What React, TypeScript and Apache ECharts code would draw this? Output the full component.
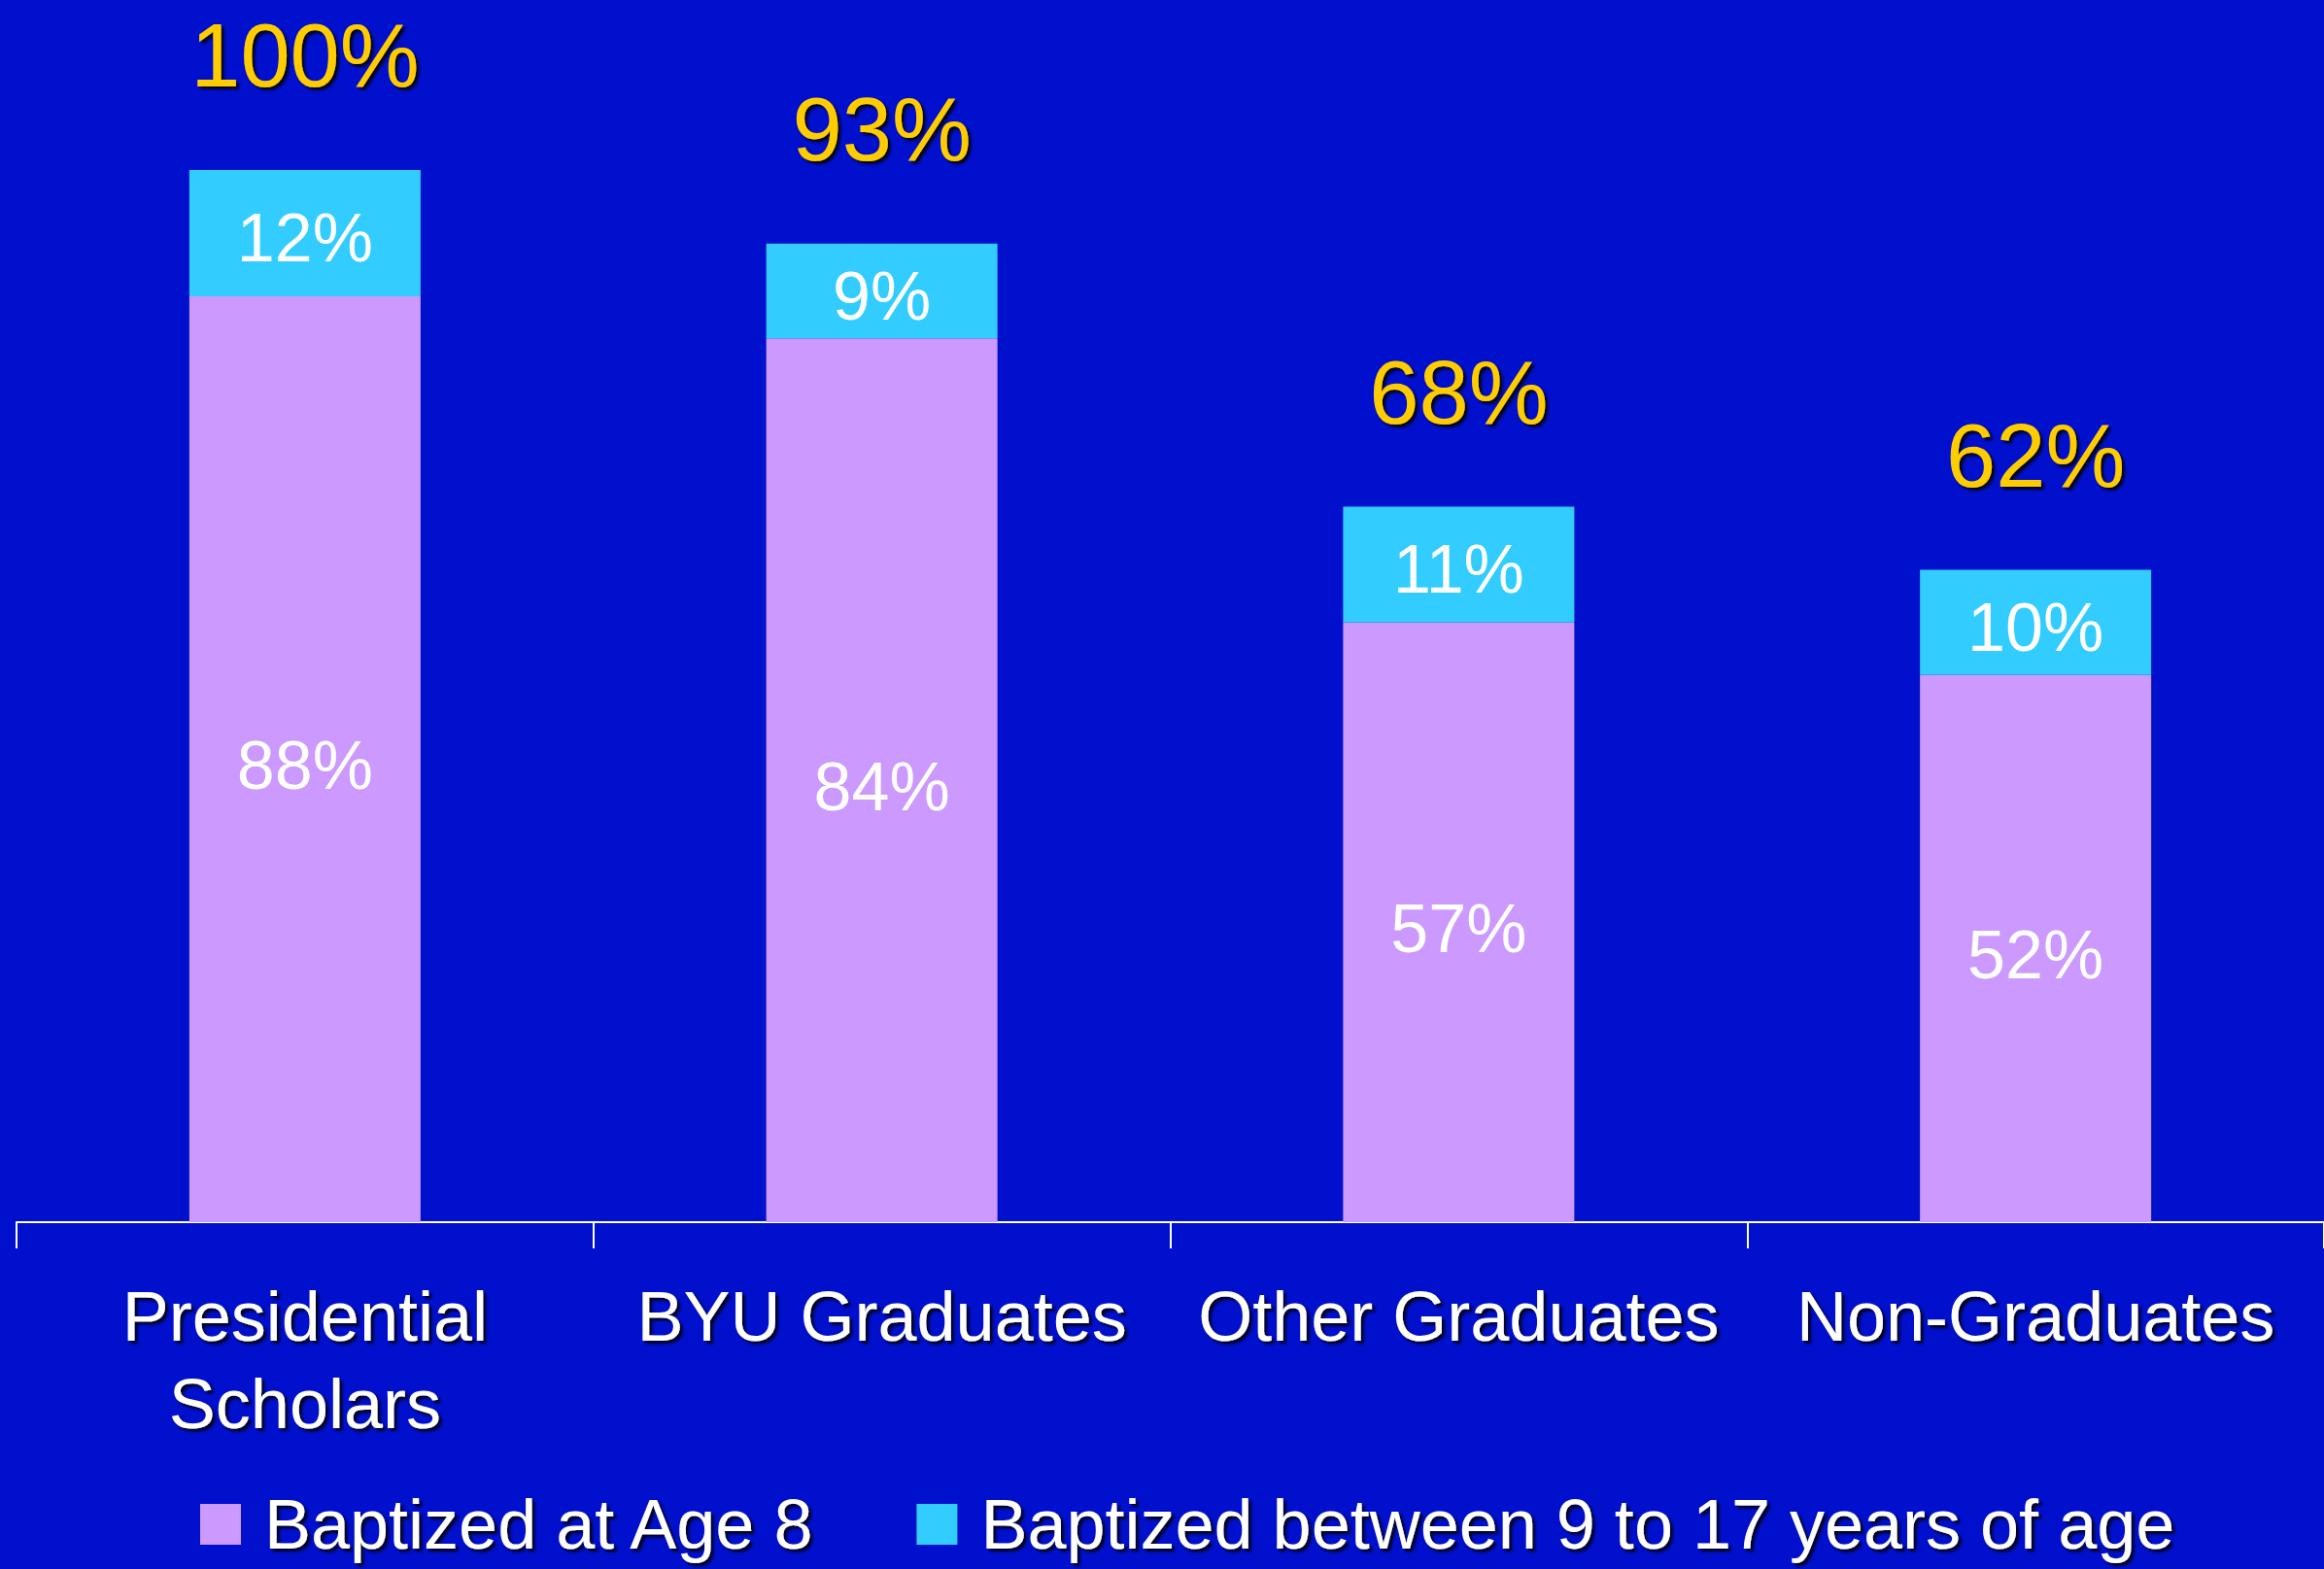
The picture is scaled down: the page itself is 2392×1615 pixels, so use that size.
import React, { useEffect, useRef } from "react";
import * as echarts from "echarts";

const categories = ["Presidential Scholars", "BYU Graduates", "Other Graduates", "Non-Graduates"];
const age8 = [88, 84, 57, 52];
const age9to17 = [12, 9, 11, 10];
const totals = [100, 93, 68, 62];
const seriesNames = ["Baptized at Age 8", "Baptized between 9 to 17 years of age"];

const FONT = "'Liberation Sans', Arial, Helvetica, sans-serif";
const BG = "#0010CC";
const PURPLE = "#CC99FF";
const CYAN = "#33CCFF";
const GOLD = "#FFCC00";

const shadow = {
  textShadowColor: "rgba(0,0,0,0.85)",
  textShadowBlur: 3,
  textShadowOffsetX: 3,
  textShadowOffsetY: 3,
};

export default function App() {
  const ref = useRef<HTMLDivElement>(null);
  useEffect(() => {
    if (!ref.current) return;
    const chart = echarts.init(ref.current, null, { renderer: "svg" });
    chart.setOption({
      animation: false,
      backgroundColor: BG,
      grid: { left: 17, right: 0, top: 175, bottom: 357, containLabel: false },
      legend: {
        left: 201,
        top: 1528,
        itemWidth: 42,
        itemHeight: 42,
        itemGap: 103,
        icon: "rect",
        data: [
          { name: seriesNames[0], itemStyle: { color: PURPLE } },
          { name: seriesNames[1], itemStyle: { color: CYAN } },
        ],
        textStyle: {
          color: "#ffffff",
          fontSize: 72,
          fontFamily: FONT,
          padding: [0, 0, 0, 19],
          ...shadow,
        },
      },
      xAxis: {
        type: "category",
        data: categories,
        axisLine: { show: true, lineStyle: { color: "#ffffff", width: 2 } },
        axisTick: { show: true, length: 27, lineStyle: { color: "#ffffff", width: 2 } },
        axisLabel: {
          interval: 0,
          color: "#ffffff",
          fontSize: 72,
          lineHeight: 90,
          margin: 52,
          fontFamily: FONT,
          formatter: (v: string) => (v.length > 16 ? v.replace(" ", "\n") : v),
          ...shadow,
        },
      },
      yAxis: { type: "value", min: 0, max: 100, show: false, splitLine: { show: false } },
      series: [
        {
          name: seriesNames[0],
          type: "bar",
          stack: "total",
          data: age8,
          barWidth: 238,
          itemStyle: { color: PURPLE },
          label: {
            show: true,
            position: "inside",
            formatter: "{c}%",
            color: "#ffffff",
            fontSize: 70,
            fontFamily: FONT,
            offset: [0, 7],
          },
        },
        {
          name: seriesNames[1],
          type: "bar",
          stack: "total",
          data: age9to17,
          barWidth: 238,
          itemStyle: { color: CYAN },
          label: {
            show: true,
            position: "inside",
            formatter: "{c}%",
            color: "#ffffff",
            fontSize: 70,
            fontFamily: FONT,
            offset: [0, 5],
          },
        },
        {
          name: "Total",
          type: "bar",
          data: totals,
          barWidth: 238,
          barGap: "-100%",
          silent: true,
          itemStyle: { color: "rgba(0,0,0,0)" },
          label: {
            show: true,
            position: "top",
            distance: 68,
            formatter: "{c}%",
            color: GOLD,
            fontSize: 92,
            lineHeight: 100,
            fontFamily: FONT,
            ...shadow,
          },
        },
      ],
    });
    return () => chart.dispose();
  }, []);
  return (
    <div
      ref={ref}
      style={{ position: "absolute", left: 0, top: 0, width: 2392, height: 1615 }}
    />
  );
}
